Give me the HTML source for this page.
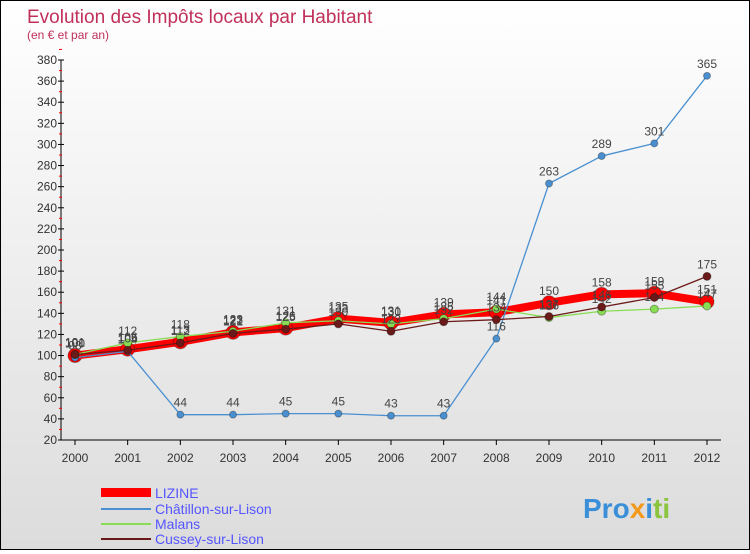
<!DOCTYPE html>
<html><head><meta charset="utf-8"><style>
html,body{margin:0;padding:0}
body{width:750px;height:550px;overflow:hidden;font-family:"Liberation Sans",sans-serif}
#wrap{position:relative;width:748px;height:548px;border:1px solid #000;background:linear-gradient(#fff,#dcdcdc)}
</style></head><body>
<div id="wrap">
<svg id="svg" width="748" height="548" xmlns="http://www.w3.org/2000/svg">
<text x="26" y="22" font-size="19" fill="#c0305a">Evolution des Impôts locaux par Habitant</text>
<text x="26" y="38" font-size="12" fill="#c0305a">(en € et par an)</text>
<g id="axes"></g><g id="series"></g>
<g>
<rect x="100" y="487" width="50" height="9" fill="#f00"/>
<text x="154" y="497" font-size="14" fill="#5555ff">LIZINE</text>
<line x1="100" y1="508" x2="150" y2="508" stroke="#4a90d0" stroke-width="2"/>
<text x="154" y="513" font-size="14" fill="#5555ff">Châtillon-sur-Lison</text>
<line x1="100" y1="523" x2="150" y2="523" stroke="#88dd55" stroke-width="2"/>
<text x="154" y="528" font-size="14" fill="#5555ff">Malans</text>
<line x1="100" y1="538" x2="150" y2="538" stroke="#6b1a1a" stroke-width="2"/>
<text x="154" y="543" font-size="14" fill="#5555ff">Cussey-sur-Lison</text>
</g>
<text x="582" y="517" font-size="28" font-weight="bold"><tspan fill="#3a8fd8">Pro</tspan><tspan fill="#f39a1d">x</tspan><tspan fill="#3a8fd8">i</tspan><tspan fill="#8bc53f">ti</tspan></text>
</svg></div>
<script>
const years=["2000","2001","2002","2003","2004","2005","2006","2007","2008","2009","2010","2011","2012"];
const yTicks=[20,40,60,80,100,120,140,160,180,200,220,240,260,280,300,320,340,360,380];
const lizine=[100,106,113,122,126,135,131,139,141,150,158,159,151];
const chatillon=[98,104,44,44,45,45,43,43,116,263,289,301,365];
const malans=[101,112,118,123,131,133,130,135,144,136,142,144,147];
const cussey=[101,105,112,121,125,130,123,132,134,137,146,155,175];
const NS="http://www.w3.org/2000/svg";
function X(i){return 74+i*(706-74)/(years.length-1);}
function Y(v){return 439-(v-20)*(380/360);}
function mk(t,a,p){const e=document.createElementNS(NS,t);for(const k in a)e.setAttribute(k,a[k]);p.appendChild(e);return e;}
const ax=document.getElementById('axes'),sg=document.getElementById('series');
const yl=mk('line',{x1:60,y1:Y(380),x2:60,y2:Y(20),stroke:'#000'},ax);


const xl=mk('line',{x1:60,y1:Y(20),x2:720,y2:Y(20),stroke:'#000'},ax);


yTicks.forEach(v=>{
 mk('line',{x1:57,y1:Y(v),x2:63,y2:Y(v),stroke:'#000'},ax);
 mk('line',{x1:58,y1:Y(v+10),x2:61,y2:Y(v+10),stroke:'#f00'},ax);
 const t=mk('text',{x:56,y:Y(v)+4,'font-size':12,fill:'#333','text-anchor':'end'},ax);t.textContent=v;
 
 
});
years.forEach((y,i)=>{
 mk('line',{x1:X(i),y1:Y(20),x2:X(i),y2:Y(20)+5,stroke:'#000'},ax);
 const t=mk('text',{x:X(i),y:Y(20)+22,'font-size':12,fill:'#333','text-anchor':'middle'},ax);t.textContent=y;
 
 
});
function draw(vals,name,col,w,r){
 const g=mk('g',{},sg);
 
 
 mk('polyline',{points:vals.map((v,i)=>X(i)+','+Y(v)).join(' '),fill:'none',stroke:col,'stroke-width':w,'stroke-linejoin':'round'},g);
 vals.forEach((v,i)=>{
  const c=mk('circle',{cx:X(i),cy:Y(v),r:r,fill:col,stroke:'rgba(0,0,0,0.3)'},g);
  
  
  const t=mk('text',{x:X(i),y:Y(v)-8,'font-size':12,fill:'#444','text-anchor':'middle'},g);t.textContent=v;
  
  
 });
}
draw(lizine,'lizine','#f00',8,7);
draw(chatillon,'chatillon','#4a90d0',1.3,3.5);
draw(malans,'malans','#88dd55',1.3,4);
draw(cussey,'cussey','#6b1a1a',1.3,4);
</script>
</body></html>
